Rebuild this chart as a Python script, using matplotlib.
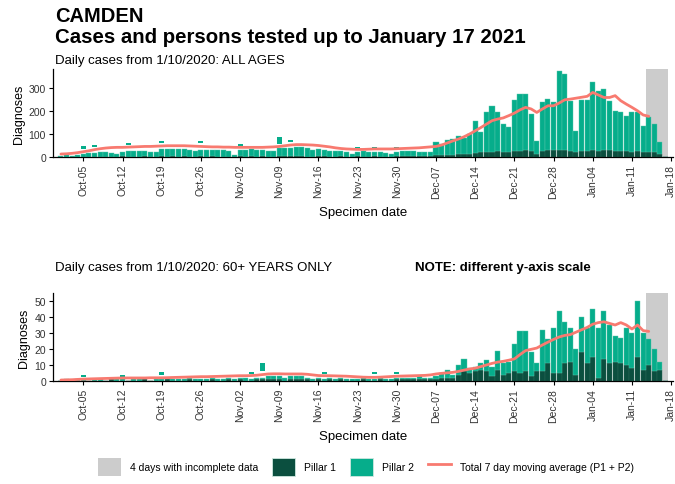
import matplotlib
matplotlib.use("Agg")
import matplotlib.pyplot as plt
import matplotlib.dates as mdates
from matplotlib.patches import Patch
from matplotlib.lines import Line2D
import numpy as np
import pandas as pd

plt.rcParams['font.family'] = ['Liberation Sans', 'DejaVu Sans']

# ---------------- data ----------------
start_date = "2020-10-01"
n_days = 109  # Oct 1 2020 .. Jan 17 2021

all_p1 = [1, 1, 1, 2, 2, 2, 1,
          2, 2, 1, 2, 3, 2, 2,
          2, 3, 2, 1, 3, 2, 3,
          2, 3, 2, 1, 3, 2, 3,
          2, 2, 1, 1, 3, 2, 3,
          2, 3, 2, 1, 4, 3, 4,
          3, 4, 2, 2, 3, 3, 2,
          2, 3, 2, 1, 3, 2, 2,
          3, 2, 2, 1, 3, 4, 5,
          5, 6, 5, 6, 8, 8, 10,
          10, 12, 12, 14, 18, 20, 22,
          22, 25, 20, 22, 25, 28, 30,
          28, 15, 28, 30, 32, 30, 30,
          28, 20, 25, 28, 30, 28, 32,
          30, 28, 25, 25, 22, 25, 20,
          22, 20, 12, 0]
all_p2 = [4, 7, 5, 8, 13, 16, 17,
          18, 18, 15, 13, 19, 23, 22,
          23, 23, 20, 19, 32, 34, 32,
          34, 33, 28, 27, 27, 30, 27,
          29, 28, 24, 9, 27, 30, 30,
          28, 26, 23, 23, 36, 35, 36,
          39, 40, 36, 28, 32, 27, 26,
          24, 22, 18, 14, 19, 22, 20,
          19, 18, 16, 14, 19, 20, 20,
          19, 17, 15, 16, 59, 49, 65,
          68, 78, 72, 86, 140, 90, 175,
          198, 172, 123, 107, 224, 246, 244,
          159, 56, 212, 222, 206, 345, 330,
          217, 94, 224, 221, 295, 260, 264,
          215, 173, 172, 155, 175, 169, 116,
          150, 123, 52, 0]
all_avg = [13, 14, 16, 19, 23, 27, 32,
           36, 39, 41, 42, 42, 43, 44,
           45, 46, 46, 47, 48, 49, 49,
           49, 49, 48, 47, 46, 45, 44,
           44, 43, 43, 42, 42, 42, 42,
           42, 42, 43, 44, 46, 49, 52,
           54, 54, 53, 52, 50, 47, 44,
           40, 37, 35, 34, 33, 33, 34,
           35, 35, 35, 35, 36, 37, 38,
           39, 40, 42, 44, 46, 52, 61,
           70, 78, 88, 100, 114, 128, 143,
           158, 165, 170, 180, 191, 205, 216,
           209, 194, 209, 223, 223, 235, 249,
           252, 256, 260, 264, 281, 270, 259,
           259, 267, 245, 230, 216, 201, 183,
           177]
# detached Pillar 2 segments (date, low, high)
all_float_dates = ["2020-10-05", "2020-10-07", "2020-10-13", "2020-10-19", "2020-10-26",
                   "2020-11-02", "2020-11-09", "2020-11-11", "2020-11-23", "2020-11-26", "2020-11-30"]
all_float_lo = [36, 45, 52, 60, 60, 50, 55, 64, 38, 36, 38]
all_float_hi = [50, 54, 61, 68, 68, 57, 88, 72, 44, 42, 44]

old_p1 = [0, 0, 0, 0, 0, 0, 0,
          0, 0, 1, 0, 0, 0, 0,
          0, 1, 0, 0, 0, 1, 0,
          0, 0, 1, 0, 0, 0, 1,
          0, 0, 1, 0, 1, 0, 0,
          1, 1, 1, 1, 1, 0, 1,
          1, 1, 1, 0, 1, 0, 1,
          0, 1, 0, 0, 0, 1, 0,
          0, 1, 0, 0, 1, 1, 1,
          1, 1, 1, 1, 1, 2, 2,
          2, 4, 6, 5, 6, 7, 6,
          3, 7, 4, 5, 6, 5, 6,
          3, 6, 6, 11, 5, 5, 11,
          12, 4, 18, 11, 15, 2, 14,
          11, 12, 11, 10, 8, 15, 7,
          10, 6, 7, 0]
old_p2 = [0, 1, 0, 1, 1, 0, 1,
          1, 0, 0, 1, 1, 0, 1,
          1, 0, 0, 1, 1, 1, 1,
          1, 1, 1, 1, 1, 1, 1,
          1, 1, 1, 1, 1, 2, 1,
          1, 1, 2, 2, 2, 2, 2,
          2, 2, 1, 1, 1, 1, 1,
          1, 1, 1, 1, 1, 1, 1,
          1, 1, 1, 1, 1, 1, 1,
          1, 2, 1, 1, 2, 3, 5,
          2, 6, 8, 3, 3, 4, 7,
          6, 12, 7, 7, 17, 26, 25,
          15, 5, 26, 15, 28, 39, 26,
          21, 16, 22, 22, 30, 31, 30,
          24, 16, 16, 23, 22, 35, 23,
          16, 14, 5, 0]
old_avg = [0.6, 0.7, 0.8, 1.0, 1.2, 1.3, 1.4,
           1.5, 1.6, 1.7, 1.8, 1.9, 1.9, 1.9,
           1.9, 1.9, 2.0, 2.0, 2.0, 2.1, 2.2,
           2.3, 2.4, 2.5, 2.6, 2.7, 2.7, 2.8,
           2.9, 3.0, 3.1, 3.2, 3.3, 3.3, 3.4,
           3.6, 4.0, 4.4, 4.5, 4.5, 4.4, 4.4,
           4.4, 4.4, 4.2, 3.8, 3.4, 3.3, 3.3,
           3.2, 3.1, 3.0, 2.8, 2.6, 2.4, 2.3,
           2.3, 2.4, 2.6, 2.8, 3.0, 3.1, 3.2,
           3.3, 3.4, 3.5, 3.8, 4.4, 4.8, 5.1,
           5.4, 6.0, 6.8, 7.5, 8.0, 9.0, 10.0,
           11.0, 11.8, 12.3, 13.0, 13.8, 16.5, 19.0,
           19.8, 20.6, 22.5, 24.3, 26.0, 27.5, 28.5,
           29.0, 30.5, 32.0, 33.5, 35.5, 36.5, 37.0,
           36.0, 35.0, 36.5, 35.0, 32.5, 35.0, 31.5,
           31.0]
old_float_dates = ["2020-10-05", "2020-10-12", "2020-10-19", "2020-11-04", "2020-11-06",
                   "2020-11-17", "2020-11-26", "2020-11-30"]
old_float_lo = [2.3, 2.7, 4.0, 4.4, 6.0, 4.5, 4.4, 4.4]
old_float_hi = [4.0, 3.8, 5.6, 5.4, 11.5, 5.4, 5.4, 5.4]

incomplete_start = "2021-01-13 12:00"
incomplete_end = "2021-01-17 12:00"

tick_dates = pd.date_range("2020-10-05", "2021-01-18", freq="7D")

# ---------------- style ----------------
C_P1 = "#0b4f3f"
C_P2 = "#06ad8b"
C_AVG = "#f87a70"
C_GREY = "#cccccc"

dates = pd.date_range(start_date, periods=n_days, freq="D")

fig = plt.figure(figsize=(6.75, 4.85), dpi=100)
W, H = 675.0, 485.0


def make_panel(rect, p1, p2, avg, fdates, flo, fhi, ymax, yticks):
    ax = fig.add_axes(rect)
    ax.axvspan(pd.Timestamp(incomplete_start), pd.Timestamp(incomplete_end),
               color=C_GREY, zorder=0, lw=0)
    p1 = np.array(p1, dtype=float)
    p2 = np.array(p2, dtype=float)
    ax.bar(dates, p1, width=0.9, color=C_P1, zorder=2, lw=0.3, edgecolor="#2d6b5b")
    ax.bar(dates, p2, bottom=p1, width=0.9, color=C_P2, zorder=2, lw=0.3, edgecolor="#5cc6ad")
    fd = pd.to_datetime(fdates)
    flo = np.array(flo, dtype=float)
    fhi = np.array(fhi, dtype=float)
    ax.bar(fd, fhi - flo, bottom=flo, width=0.9, color=C_P2, zorder=2, lw=0)
    ax.plot(dates[:len(avg)], avg, color=C_AVG, lw=2.0, zorder=3, solid_capstyle="round")
    ax.set_xlim(pd.Timestamp("2020-09-29 14:00"), pd.Timestamp("2021-01-18 08:00"))
    ax.set_ylim(0, ymax)
    ax.set_yticks(yticks)
    ax.set_xticks(tick_dates)
    ax.xaxis.set_major_formatter(mdates.DateFormatter("%b-%d"))
    for s in ["top", "right"]:
        ax.spines[s].set_visible(False)
    for s in ["left", "bottom"]:
        ax.spines[s].set_linewidth(0.9)
        ax.spines[s].set_color("black")
    ax.tick_params(axis="x", labelrotation=90, labelsize=7.5, length=3, width=0.8,
                   colors="black", labelcolor="#333333", pad=2)
    ax.tick_params(axis="y", labelsize=7.5, length=3, width=0.8, colors="black",
                   labelcolor="#333333", pad=2)
    ax.set_ylabel("Diagnoses", fontsize=9, labelpad=3)
    ax.set_xlabel("Specimen date", fontsize=9.5, labelpad=6)
    return ax


ax1 = make_panel([53 / W, 1 - 158 / H, (673 - 53) / W, (158 - 70) / H],
                 all_p1, all_p2, all_avg, all_float_dates, all_float_lo, all_float_hi,
                 383, [0, 100, 200, 300])
ax2 = make_panel([53 / W, 1 - 382 / H, (673 - 53) / W, (382 - 294) / H],
                 old_p1, old_p2, old_avg, old_float_dates, old_float_lo, old_float_hi,
                 55, [0, 10, 20, 30, 40, 50])

fig.text(55 / W, 1 - 17 / H, "CAMDEN", fontsize=14.5, fontweight="bold", va="center", ha="left")
fig.text(55 / W, 1 - 38 / H, "Cases and persons tested up to January 17 2021", fontsize=14.7,
         fontweight="bold", va="center", ha="left")
fig.text(55 / W, 1 - 61 / H, "Daily cases from 1/10/2020: ALL AGES", fontsize=9.5,
         va="center", ha="left")
fig.text(55 / W, 1 - 268 / H, "Daily cases from 1/10/2020: 60+ YEARS ONLY", fontsize=9.5,
         va="center", ha="left")
fig.text(415 / W, 1 - 268 / H, "NOTE: different y-axis scale", fontsize=9.5,
         fontweight="bold", va="center", ha="left")

handles = [Patch(facecolor=C_GREY, edgecolor="none"),
           Patch(facecolor=C_P1, edgecolor="#cfe8e0", lw=0.6),
           Patch(facecolor=C_P2, edgecolor="#cfe8e0", lw=0.6),
           Line2D([0], [0], color=C_AVG, lw=2)]
labels = ["4 days with incomplete data", "Pillar 1", "Pillar 2",
          "Total 7 day moving average (P1 + P2)"]
fig.legend(handles, labels, loc="center", bbox_to_anchor=(366 / W, 1 - 468 / H), ncol=4,
           frameon=False, fontsize=7.5, handlelength=2.2, handleheight=2.3,
           handletextpad=0.9, columnspacing=1.3, borderpad=0)

fig.savefig("out.png", dpi=100)
